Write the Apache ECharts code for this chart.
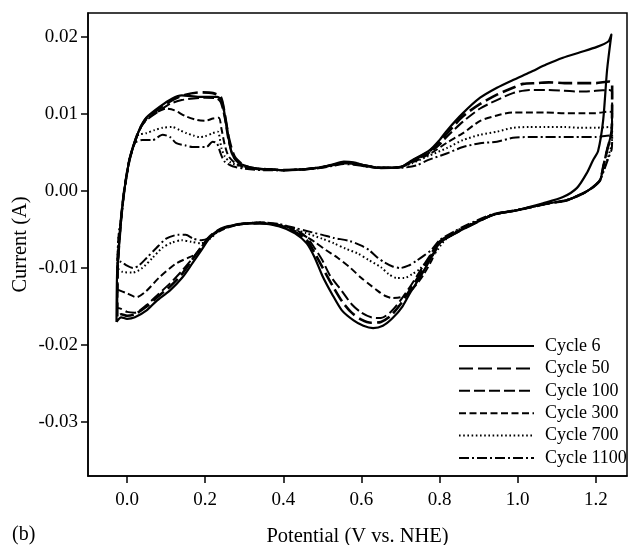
<!DOCTYPE html>
<html>
<head>
<meta charset="utf-8">
<style>
  html, body { margin: 0; padding: 0; background: #fff; }
  #chart { width: 633px; height: 545px; }
</style>
<script src="https://cdn.jsdelivr.net/npm/echarts@6/dist/echarts.min.js"></script>
</head>
<body>
<div id="chart"></div>
<script>
// Cyclic voltammograms: each list runs anodic (left to right) then cathodic back.
// Points are [potential (V vs. NHE), current (A)].
const cycle6 = [
  [-0.027,-0.0170],[-0.025,-0.0100],[-0.015,-0.0035],[-0.007,0.0001],[0.006,0.0040],[0.024,0.0070],
  [0.037,0.0085],[0.049,0.0095],[0.083,0.0109],[0.116,0.0120],[0.140,0.0124],[0.185,0.0122],
  [0.230,0.0122],[0.242,0.0118],[0.255,0.0085],[0.268,0.0049],[0.288,0.0036],[0.321,0.0030],
  [0.36,0.0028],[0.40,0.0027],[0.45,0.0028],[0.50,0.0031],[0.53,0.0035],[0.555,0.0038],
  [0.58,0.0037],[0.61,0.0033],[0.65,0.0030],[0.70,0.0031],[0.73,0.0040],[0.775,0.0053],
  [0.80,0.0066],[0.82,0.0079],[0.86,0.0101],[0.904,0.0121],[0.947,0.0134],[0.988,0.0144],
  [1.032,0.0154],[1.073,0.0164],[1.116,0.0173],[1.16,0.0180],[1.203,0.0187],[1.232,0.0194],
  [1.24,0.0203],
  [1.229,0.0157],[1.219,0.0092],[1.206,0.0052],[1.193,0.0040],[1.178,0.0024],[1.152,0.0004],
  [1.116,-0.0008],[1.065,-0.0016],[0.998,-0.0025],[0.937,-0.0031],[0.87,-0.0047],[0.84,-0.0055],
  [0.80,-0.0068],[0.775,-0.0090],[0.75,-0.0112],[0.725,-0.0132],[0.705,-0.0150],[0.68,-0.0165],
  [0.655,-0.0175],[0.63,-0.0178],[0.605,-0.0175],[0.58,-0.0168],[0.55,-0.0155],[0.525,-0.0134],
  [0.50,-0.0110],[0.48,-0.0086],[0.46,-0.0068],[0.43,-0.0055],[0.39,-0.0046],[0.34,-0.0042],
  [0.29,-0.0043],[0.25,-0.0048],[0.23,-0.0053],[0.21,-0.0062],[0.19,-0.0077],[0.167,-0.0094],
  [0.142,-0.0112],[0.11,-0.0129],[0.075,-0.0143],[0.05,-0.0155],[0.02,-0.0164],[0.0,-0.0166],
  [-0.015,-0.0164],[-0.027,-0.0170]
];

const cycle50 = [
  [-0.025,-0.0163],[-0.024,-0.0100],[-0.015,-0.0035],[-0.007,0.0001],[0.006,0.0040],[0.024,0.0070],
  [0.037,0.0085],[0.049,0.0094],[0.083,0.0107],[0.116,0.0118],[0.15,0.0125],[0.19,0.0128],
  [0.22,0.0127],[0.24,0.0122],[0.25,0.0100],[0.26,0.0070],[0.275,0.0045],[0.30,0.0033],
  [0.33,0.0029],[0.37,0.0028],[0.40,0.0027],[0.45,0.0028],[0.50,0.0031],[0.53,0.0034],
  [0.555,0.0037],[0.58,0.0036],[0.61,0.0033],[0.65,0.0030],[0.70,0.0031],[0.73,0.0039],
  [0.775,0.0052],[0.80,0.0063],[0.82,0.0075],[0.86,0.0097],[0.904,0.0113],[0.947,0.0125],
  [0.988,0.0134],[1.014,0.0139],[1.05,0.0140],[1.08,0.0141],[1.12,0.0140],[1.16,0.0140],
  [1.20,0.0140],[1.235,0.0142],[1.242,0.0140],
  [1.241,0.0080],[1.229,0.0053],[1.219,0.0031],[1.211,0.0014],[1.193,0.0005],[1.168,-0.0003],
  [1.126,-0.0012],[1.08,-0.0016],[0.998,-0.0025],[0.937,-0.0031],[0.87,-0.0047],[0.84,-0.0055],
  [0.80,-0.0066],[0.775,-0.0087],[0.75,-0.0108],[0.725,-0.0128],[0.70,-0.0147],[0.675,-0.0162],
  [0.65,-0.0170],[0.625,-0.0171],[0.60,-0.0167],[0.575,-0.0158],[0.55,-0.0143],[0.525,-0.0122],
  [0.50,-0.0099],[0.48,-0.0080],[0.46,-0.0064],[0.43,-0.0053],[0.39,-0.0045],[0.34,-0.0042],
  [0.29,-0.0043],[0.25,-0.0047],[0.23,-0.0052],[0.21,-0.0060],[0.19,-0.0073],[0.167,-0.0089],
  [0.142,-0.0107],[0.11,-0.0124],[0.075,-0.0139],[0.05,-0.0150],[0.02,-0.0160],[0.0,-0.0162],
  [-0.015,-0.0160],[-0.025,-0.0163]
];

const cycle100 = [
  [-0.025,-0.0152],[-0.024,-0.0100],[-0.015,-0.0035],[-0.007,0.0001],[0.006,0.0040],[0.024,0.0069],
  [0.037,0.0084],[0.05,0.0092],[0.083,0.0104],[0.11,0.0113],[0.14,0.0118],[0.17,0.0120],
  [0.20,0.0121],[0.23,0.0120],[0.24,0.0115],[0.25,0.0095],[0.26,0.0065],[0.275,0.0042],
  [0.30,0.0032],[0.33,0.0029],[0.37,0.0028],[0.40,0.0027],[0.45,0.0028],[0.50,0.0031],
  [0.53,0.0034],[0.555,0.0037],[0.58,0.0036],[0.61,0.0033],[0.65,0.0030],[0.70,0.0031],
  [0.73,0.0038],[0.775,0.0050],[0.80,0.0060],[0.82,0.0071],[0.86,0.0090],[0.904,0.0107],
  [0.947,0.0118],[0.988,0.0127],[1.03,0.0131],[1.07,0.0131],[1.12,0.0130],[1.16,0.0129],
  [1.20,0.0130],[1.235,0.0131],[1.242,0.0129],
  [1.241,0.0080],[1.229,0.0053],[1.219,0.0031],[1.211,0.0014],[1.193,0.0005],[1.168,-0.0003],
  [1.126,-0.0012],[1.08,-0.0016],[0.998,-0.0025],[0.937,-0.0031],[0.87,-0.0046],[0.84,-0.0054],
  [0.80,-0.0065],[0.775,-0.0084],[0.75,-0.0104],[0.725,-0.0124],[0.70,-0.0142],[0.675,-0.0157],
  [0.65,-0.0165],[0.625,-0.0164],[0.60,-0.0158],[0.575,-0.0147],[0.55,-0.0130],[0.52,-0.0110],
  [0.50,-0.0090],[0.48,-0.0074],[0.46,-0.0060],[0.43,-0.0050],[0.39,-0.0044],[0.34,-0.0041],
  [0.29,-0.0043],[0.25,-0.0047],[0.23,-0.0052],[0.21,-0.0060],[0.19,-0.0073],[0.167,-0.0088],
  [0.14,-0.0104],[0.11,-0.0120],[0.08,-0.0134],[0.05,-0.0148],[0.02,-0.0158],[0.0,-0.0157],
  [-0.015,-0.0153],[-0.025,-0.0152]
];

const cycle300 = [
  [-0.025,-0.0128],[-0.024,-0.0100],[-0.015,-0.0035],[-0.007,0.0001],[0.006,0.0040],[0.024,0.0070],
  [0.035,0.0083],[0.05,0.0093],[0.075,0.0102],[0.10,0.0107],[0.12,0.0105],[0.15,0.0097],
  [0.18,0.0092],[0.20,0.0091],[0.22,0.0094],[0.235,0.0095],[0.242,0.0080],[0.25,0.0060],
  [0.26,0.0045],[0.28,0.0035],[0.31,0.0030],[0.35,0.0028],[0.40,0.0027],[0.45,0.0028],
  [0.50,0.0031],[0.53,0.0034],[0.555,0.0036],[0.58,0.0035],[0.61,0.0032],[0.65,0.0030],
  [0.70,0.0031],[0.73,0.0037],[0.775,0.0048],[0.82,0.0063],[0.86,0.0075],[0.904,0.0091],
  [0.947,0.0098],[0.988,0.0102],[1.03,0.0102],[1.07,0.0102],[1.12,0.0101],[1.16,0.0101],
  [1.20,0.0101],[1.235,0.0103],[1.242,0.0101],
  [1.241,0.0075],[1.229,0.0053],[1.219,0.0031],[1.211,0.0014],[1.193,0.0005],[1.168,-0.0003],
  [1.126,-0.0012],[1.08,-0.0016],[0.998,-0.0025],[0.937,-0.0031],[0.87,-0.0046],[0.84,-0.0055],
  [0.80,-0.0068],[0.78,-0.0090],[0.76,-0.0108],[0.74,-0.0122],[0.72,-0.0133],[0.70,-0.0138],
  [0.68,-0.0139],[0.66,-0.0136],[0.64,-0.0129],[0.62,-0.0121],[0.60,-0.0113],[0.57,-0.0099],
  [0.54,-0.0087],[0.51,-0.0077],[0.48,-0.0066],[0.46,-0.0060],[0.43,-0.0052],[0.39,-0.0045],
  [0.34,-0.0041],[0.29,-0.0043],[0.25,-0.0049],[0.22,-0.0057],[0.20,-0.0068],[0.18,-0.0081],
  [0.16,-0.0086],[0.126,-0.0094],[0.083,-0.0112],[0.049,-0.0130],[0.024,-0.0138],[0.0,-0.0133],
  [-0.025,-0.0128]
];

const cycle700 = [
  [-0.025,-0.0100],[-0.022,-0.0060],[-0.015,-0.0035],[-0.007,0.0001],[0.006,0.0040],[0.020,0.0065],
  [0.03,0.0073],[0.049,0.0075],[0.07,0.0079],[0.091,0.0082],[0.116,0.0083],[0.135,0.0079],
  [0.152,0.0075],[0.17,0.0072],[0.185,0.0070],[0.20,0.0071],[0.219,0.0075],[0.232,0.0077],
  [0.242,0.0055],[0.25,0.0045],[0.265,0.0037],[0.29,0.0032],[0.32,0.0029],[0.36,0.0028],
  [0.40,0.0027],[0.45,0.0028],[0.50,0.0031],[0.53,0.0034],[0.555,0.0036],[0.58,0.0035],
  [0.61,0.0032],[0.65,0.0030],[0.70,0.0031],[0.73,0.0036],[0.77,0.0045],[0.82,0.0056],
  [0.86,0.0066],[0.904,0.0073],[0.947,0.0077],[0.988,0.0082],[1.03,0.0083],[1.07,0.0083],
  [1.12,0.0083],[1.16,0.0082],[1.20,0.0082],[1.235,0.0083],[1.242,0.0081],
  [1.241,0.0062],[1.232,0.0045],[1.222,0.0030],[1.211,0.0014],[1.193,0.0005],[1.168,-0.0003],
  [1.126,-0.0012],[1.08,-0.0016],[0.998,-0.0025],[0.937,-0.0031],[0.87,-0.0045],[0.84,-0.0053],
  [0.81,-0.0066],[0.79,-0.0080],[0.77,-0.0090],[0.75,-0.0101],[0.73,-0.0108],[0.71,-0.0113],
  [0.69,-0.0113],[0.67,-0.0108],[0.65,-0.0099],[0.62,-0.0090],[0.59,-0.0081],[0.56,-0.0075],
  [0.53,-0.0068],[0.50,-0.0062],[0.46,-0.0055],[0.43,-0.0050],[0.39,-0.0044],[0.34,-0.0041],
  [0.29,-0.0043],[0.25,-0.0048],[0.23,-0.0054],[0.21,-0.0063],[0.19,-0.0068],[0.165,-0.0066],
  [0.14,-0.0064],[0.115,-0.0067],[0.09,-0.0074],[0.065,-0.0087],[0.039,-0.0100],[0.014,-0.0106],
  [-0.012,-0.0105],[-0.025,-0.0100]
];

const cycle1100 = [
  [-0.025,-0.0091],[-0.022,-0.0060],[-0.015,-0.0035],[-0.007,0.0001],[0.006,0.0040],[0.019,0.0062],
  [0.039,0.0066],[0.065,0.0066],[0.091,0.0073],[0.11,0.0070],[0.126,0.0062],[0.15,0.0059],
  [0.167,0.0057],[0.203,0.0057],[0.219,0.0064],[0.23,0.0062],[0.24,0.0048],[0.25,0.0038],
  [0.27,0.0032],[0.30,0.0029],[0.35,0.0027],[0.40,0.0027],[0.45,0.0028],[0.50,0.0030],
  [0.53,0.0033],[0.555,0.0035],[0.58,0.0034],[0.61,0.0032],[0.65,0.0030],[0.70,0.0030],
  [0.74,0.0033],[0.77,0.0040],[0.82,0.0049],[0.86,0.0057],[0.904,0.0062],[0.947,0.0064],
  [0.988,0.0069],[1.03,0.0070],[1.07,0.0070],[1.12,0.0070],[1.16,0.0070],[1.20,0.0070],
  [1.235,0.0072],[1.242,0.0070],
  [1.241,0.0055],[1.232,0.0042],[1.222,0.0028],[1.211,0.0014],[1.193,0.0005],[1.168,-0.0003],
  [1.126,-0.0012],[1.08,-0.0016],[0.998,-0.0025],[0.937,-0.0030],[0.87,-0.0044],[0.84,-0.0052],
  [0.80,-0.0064],[0.78,-0.0076],[0.76,-0.0084],[0.74,-0.0091],[0.72,-0.0097],[0.70,-0.0100],
  [0.68,-0.0098],[0.66,-0.0093],[0.64,-0.0086],[0.62,-0.0077],[0.60,-0.0071],[0.57,-0.0065],
  [0.53,-0.0061],[0.50,-0.0057],[0.46,-0.0052],[0.43,-0.0048],[0.39,-0.0043],[0.34,-0.0041],
  [0.29,-0.0043],[0.25,-0.0048],[0.23,-0.0053],[0.21,-0.0061],[0.19,-0.0064],[0.17,-0.0062],
  [0.15,-0.0057],[0.13,-0.0057],[0.10,-0.0062],[0.075,-0.0074],[0.05,-0.0087],[0.03,-0.0097],
  [0.015,-0.0100],[0.0,-0.0097],[-0.015,-0.0092],[-0.025,-0.0091]
];

const cycleNames = ['Cycle 6', 'Cycle 50', 'Cycle 100', 'Cycle 300', 'Cycle 700', 'Cycle 1100'];
const xTicks = [0.0, 0.2, 0.4, 0.6, 0.8, 1.0, 1.2];
const yTicks = [-0.03, -0.02, -0.01, 0.00, 0.01, 0.02];

const FONT = '"Liberation Serif", "Times New Roman", serif';
const traces = [cycle6, cycle50, cycle100, cycle300, cycle700, cycle1100];
const strokes = [
  { width: 2.2, type: 'solid' },
  { width: 2.6, type: [14, 5] },
  { width: 2.0, type: [11, 4] },
  { width: 2.0, type: [7, 3.5] },
  { width: 2.0, type: [1.6, 2.6] },
  { width: 2.0, type: [10, 3, 2, 3] }
];

const chart = echarts.init(document.getElementById('chart'), null, { renderer: 'canvas' });
chart.setOption({
  animation: false,
  backgroundColor: '#fff',
  textStyle: { fontFamily: FONT, color: '#000' },
  grid: {
    left: 88, top: 13, right: 6, bottom: 69,
    show: true, borderColor: '#000', borderWidth: 1.5,
    containLabel: false, outerBoundsMode: 'none'
  },
  legend: {
    orient: 'vertical',
    left: 453, top: 332,
    itemWidth: 75, itemHeight: 14, itemGap: 4.4,
    itemStyle: { opacity: 0 },
    textStyle: { fontFamily: FONT, fontSize: 18, color: '#000', lineHeight: 18, padding: [0, 0, 0, 6] },
    data: cycleNames
  },
  xAxis: {
    type: 'value', min: -0.1, max: 1.28,
    name: 'Potential (V vs. NHE)', nameLocation: 'middle', nameGap: 50, nameMoveOverlap: false,
    nameTextStyle: { fontFamily: FONT, fontSize: 20.5, color: '#000' },
    axisLine: { show: true, onZero: false, lineStyle: { color: '#000', width: 1.5 } },
    axisTick: { show: true, inside: false, length: 7, lineStyle: { color: '#000', width: 1.5 }, customValues: xTicks },
    axisLabel: { fontFamily: FONT, fontSize: 19, color: '#000', margin: 15, customValues: xTicks,
      formatter: v => v.toFixed(1) },
    splitLine: { show: false }
  },
  yAxis: {
    type: 'value', min: -0.037, max: 0.0231,
    name: 'Current (A)', nameLocation: 'middle', nameGap: 57, nameRotate: 90, nameMoveOverlap: false,
    nameTextStyle: { fontFamily: FONT, fontSize: 20.5, color: '#000' },
    axisLine: { show: true, onZero: false, lineStyle: { color: '#000', width: 1.5 } },
    axisTick: { show: true, inside: false, length: 7, lineStyle: { color: '#000', width: 1.5 }, customValues: yTicks },
    axisLabel: { fontFamily: FONT, fontSize: 19, color: '#000', margin: 10, customValues: yTicks,
      formatter: v => v.toFixed(2) },
    splitLine: { show: false }
  },
  graphic: [{
    type: 'text', left: 12, top: 525,
    style: { text: '(b)', font: '20px ' + FONT, fill: '#000' }
  }],
  series: traces.map((pts, i) => ({
    name: cycleNames[i],
    type: 'line',
    data: pts,
    symbol: 'none',
    smooth: 0.25,
    clip: true,
    lineStyle: { color: '#000', width: strokes[i].width, type: strokes[i].type, cap: 'butt', join: 'round' },
    itemStyle: { color: '#000' },
    emphasis: { disabled: true }
  }))
});
</script>
</body>
</html>
